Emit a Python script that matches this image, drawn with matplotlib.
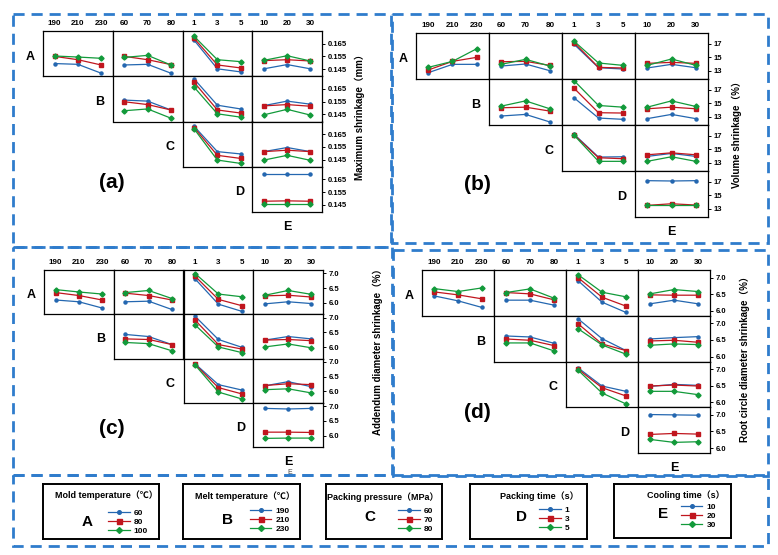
import matplotlib
matplotlib.use('Agg')
import matplotlib.pyplot as plt
from matplotlib.lines import Line2D
from matplotlib.patches import Rectangle

plt.rcParams['font.family'] = ['Liberation Sans', 'Noto Sans CJK SC', 'DejaVu Sans']

W, H = 778, 555

# factors and their levels
factors = ['A', 'B', 'C', 'D', 'E']
factor_names = ['Mold temperature（℃）', 'Melt temperature（℃）', 'Packing pressure（MPa）',
                'Packing time（s）', 'Cooling time（s）']
levels = {'A': [60, 80, 100], 'B': [190, 210, 230], 'C': [60, 70, 80],
          'D': [1, 3, 5], 'E': [10, 20, 30]}

# interaction means: (trace factor, x factor) -> [level1, level2, level3] series
max_shrink = {
    ('A', 'B'): [[0.1494, 0.1488, 0.1419], [0.1550, 0.1524, 0.1483], [0.1553, 0.1545, 0.1535]],
    ('A', 'C'): [[0.1483, 0.1488, 0.1419], [0.1550, 0.1524, 0.1486], [0.1542, 0.1558, 0.1483]],
    ('A', 'D'): [[0.1676, 0.1453, 0.1429], [0.1691, 0.1483, 0.1460], [0.1706, 0.1524, 0.1509]],
    ('A', 'E'): [[0.1453, 0.1486, 0.1453], [0.1517, 0.1524, 0.1514], [0.1519, 0.1555, 0.1514]],
    ('B', 'C'): [[0.1562, 0.1554, 0.1485], [0.1549, 0.1527, 0.1485], [0.1479, 0.1493, 0.1421]],
    ('B', 'D'): [[0.1727, 0.1522, 0.1493], [0.1701, 0.1485, 0.1461], [0.1663, 0.1455, 0.1429]],
    ('B', 'E'): [[0.1519, 0.1554, 0.1530], [0.1517, 0.1527, 0.1514], [0.1447, 0.1490, 0.1445]],
    ('C', 'D'): [[0.1710, 0.1513, 0.1495], [0.1700, 0.1484, 0.1460], [0.1690, 0.1447, 0.1421]],
    ('C', 'E'): [[0.1513, 0.1545, 0.1513], [0.1513, 0.1524, 0.1513], [0.1447, 0.1484, 0.1445]],
    ('D', 'E'): [[0.1695, 0.1695, 0.1695], [0.1479, 0.1482, 0.1479], [0.1458, 0.1458, 0.1458]],
}

vol_shrink = {
    ('A', 'B'): [[12.70, 13.94, 13.94], [13.10, 14.38, 14.98], [13.49, 14.38, 16.26]],
    ('A', 'C'): [[13.69, 13.99, 13.00], [14.33, 14.38, 13.79], [13.94, 14.68, 13.69]],
    ('A', 'D'): [[16.90, 13.44, 13.25], [17.15, 13.49, 13.40], [17.35, 14.14, 13.79]],
    ('A', 'E'): [[13.40, 13.94, 13.44], [14.09, 14.23, 14.09], [13.79, 14.73, 13.79]],
    ('B', 'C'): [[13.10, 13.34, 12.22], [14.32, 14.41, 13.83], [14.56, 15.34, 14.17]],
    ('B', 'D'): [[15.78, 12.80, 12.61], [17.20, 13.59, 13.54], [18.32, 14.66, 14.41]],
    ('B', 'E'): [[12.71, 13.34, 12.71], [14.17, 14.41, 14.17], [14.41, 15.34, 14.51]],
    ('C', 'D'): [[17.20, 13.83, 13.88], [17.10, 13.73, 13.59], [17.05, 13.20, 13.20]],
    ('C', 'E'): [[13.93, 14.37, 13.93], [14.17, 14.46, 14.17], [13.20, 13.88, 13.20]],
    ('D', 'E'): [[17.15, 17.10, 17.15], [13.49, 13.73, 13.54], [13.49, 13.49, 13.49]],
}

add_shrink = {
    ('A', 'B'): [[6.10, 6.04, 5.83], [6.35, 6.25, 6.10], [6.45, 6.37, 6.30]],
    ('A', 'C'): [[6.04, 6.06, 5.78], [6.33, 6.25, 6.10], [6.35, 6.42, 6.15]],
    ('A', 'D'): [[6.81, 5.96, 5.72], [6.90, 6.12, 5.91], [6.99, 6.30, 6.21]],
    ('A', 'E'): [[5.97, 6.04, 5.98], [6.24, 6.26, 6.20], [6.26, 6.42, 6.29]],
    ('B', 'C'): [[6.43, 6.36, 6.09], [6.28, 6.26, 6.09], [6.16, 6.12, 5.88]],
    ('B', 'D'): [[7.04, 6.26, 6.00], [6.91, 6.09, 5.94], [6.75, 6.01, 5.82]],
    ('B', 'E'): [[6.24, 6.36, 6.28], [6.24, 6.26, 6.22], [6.01, 6.11, 5.98]],
    ('C', 'D'): [[6.93, 6.23, 6.05], [6.91, 6.13, 5.92], [6.89, 5.98, 5.75]],
    ('C', 'E'): [[6.19, 6.33, 6.16], [6.20, 6.26, 6.23], [6.06, 6.09, 5.95]],
    ('D', 'E'): [[6.92, 6.90, 6.92], [6.12, 6.12, 6.11], [5.91, 5.92, 5.92]],
}

root_shrink = {
    ('A', 'B'): [[6.45, 6.30, 6.10], [6.57, 6.48, 6.36], [6.67, 6.58, 6.69]],
    ('A', 'C'): [[6.32, 6.32, 6.17], [6.55, 6.51, 6.33], [6.55, 6.66, 6.38]],
    ('A', 'D'): [[6.91, 6.26, 5.95], [7.00, 6.41, 6.14], [7.09, 6.56, 6.42]],
    ('A', 'E'): [[6.21, 6.32, 6.21], [6.48, 6.47, 6.47], [6.51, 6.64, 6.58]],
    ('B', 'C'): [[6.62, 6.59, 6.40], [6.53, 6.49, 6.33], [6.41, 6.41, 6.17]],
    ('B', 'D'): [[7.14, 6.54, 6.18], [6.99, 6.38, 6.18], [6.84, 6.35, 6.07]],
    ('B', 'E'): [[6.53, 6.57, 6.60], [6.47, 6.49, 6.43], [6.34, 6.38, 6.36]],
    ('C', 'D'): [[7.04, 6.49, 6.33], [7.00, 6.44, 6.19], [6.97, 6.28, 5.95]],
    ('C', 'E'): [[6.48, 6.54, 6.51], [6.49, 6.52, 6.49], [6.33, 6.33, 6.23]],
    ('D', 'E'): [[7.01, 7.00, 6.99], [6.41, 6.44, 6.42], [6.26, 6.17, 6.19]],
}

colors = ['#2467b0', '#c0161e', '#129a3a']
markers = ['o', 's', 'D']
msizes = [2.2, 3.2, 2.6]

fig = plt.figure(figsize=(W / 100, H / 100), dpi=100)


def px_rect(x, y, w, h):
    return [x / W, 1 - (y + h) / H, w / W, h / H]


def ftext(x, y, s, **kw):
    fig.text(x / W, 1 - y / H, s, **kw)


def draw_panel(data, ylim, yticks, yfmt, ylabel, left, top, cw, ch,
               ylab_pos, tag, tag_pos):
    for r in range(4):
        for c in range(r, 4):
            rf, cf = factors[r], factors[c + 1]
            ax = fig.add_axes(px_rect(left + c * cw, top + r * ch, cw, ch))
            xs = levels[cf]
            step = xs[1] - xs[0]
            for vals, col, mk, ms in zip(data[(rf, cf)], colors, markers, msizes):
                ax.plot(xs, vals, color=col, marker=mk, ms=ms, lw=0.9)
            ax.set_xlim(xs[0] - step / 2, xs[-1] + step / 2)
            ax.set_ylim(ylim)
            for sp in ax.spines.values():
                sp.set_linewidth(0.9)
            if r == 0:
                ax.xaxis.tick_top()
                ax.set_xticks(xs)
                ax.set_xticklabels([str(v) for v in xs], fontsize=5.8, fontweight='bold')
                ax.tick_params(axis='x', length=0, pad=3)
            else:
                ax.set_xticks([])
            if c == 3:
                ax.yaxis.tick_right()
                ax.set_yticks(yticks)
                ax.set_yticklabels([yfmt.format(v) for v in yticks], fontsize=5.5,
                                   fontweight='bold')
                ax.tick_params(axis='y', length=2, width=0.7, pad=2)
            else:
                ax.set_yticks([])
        ftext(left + r * cw - 13, top + r * ch + ch / 2 + 3, factors[r],
              fontsize=9, fontweight='bold', ha='center', va='center')
    ftext(left + 3.5 * cw, top + 4 * ch + 15, 'E', fontsize=9, fontweight='bold',
          ha='center', va='center')
    ftext(ylab_pos[0], ylab_pos[1], ylabel, fontsize=7, fontweight='bold',
          rotation=90, ha='center', va='center')
    ftext(tag_pos[0], tag_pos[1], tag, fontsize=15, fontweight='bold',
          ha='center', va='center')


draw_panel(max_shrink, (0.1395, 0.1748), [0.145, 0.155, 0.165], '{:.3f}',
           'Maximum shrinkage（mm）', 43, 31, 69.75, 45.25, (360, 115), '(a)', (112, 183))
draw_panel(vol_shrink, (11.77, 18.58), [13, 15, 17], '{:d}',
           'Volume shrinkage（%）', 416, 33, 73, 46, (737, 132), '(b)', (477, 185))
draw_panel(add_shrink, (5.62, 7.11), [6.0, 6.5, 7.0], '{:.1f}',
           'Addendum diameter shrinkage（%）', 44, 270, 69.75, 44.25, (378, 349), '(c)', (112, 428))
draw_panel(root_shrink, (5.85, 7.23), [6.0, 6.5, 7.0], '{:.1f}',
           'Root circle diameter shrinkage（%）', 422, 270, 72, 45.75, (745, 357), '(d)', (477, 413))

ftext(290, 473, 'E', fontsize=5, ha='center', va='center', color='#444444')

# dashed frames
frame_ax = fig.add_axes([0, 0, 1, 1], zorder=-1)
frame_ax.set_xlim(0, W)
frame_ax.set_ylim(H, 0)
frame_ax.axis('off')
for (x0, y0, x1, y1) in [(13, 14, 391, 247), (392, 14, 768, 243), (13, 247, 392, 475),
                         (393, 250, 768, 476), (13, 475, 768, 546)]:
    frame_ax.add_patch(Rectangle((x0, y0), x1 - x0, y1 - y0, fill=False,
                                 edgecolor='#2f7ccc', lw=2, ls=(0, (4, 2.5))))

# legend boxes
leg_boxes = [(43, 484, 159, 539), (183, 484, 300, 539), (326, 484, 442, 539),
             (470, 484, 587, 539), (614, 484, 731, 538)]
title_pos = [(0.55, 0.80), (0.53, 0.78), (0.49, 0.76), (0.59, 0.78), (0.61, 0.80)]
letter_pos = [(0.38, 0.31), (0.38, 0.35), (0.38, 0.40), (0.44, 0.40), (0.42, 0.44)]
legend_pos = [(0.56, 0.31), (0.57, 0.35), (0.62, 0.35), (0.59, 0.36), (0.57, 0.40)]

for i, f in enumerate(factors):
    x0, y0, x1, y1 = leg_boxes[i]
    lax = fig.add_axes(px_rect(x0, y0, x1 - x0, y1 - y0))
    lax.set_xticks([])
    lax.set_yticks([])
    for sp in lax.spines.values():
        sp.set_linewidth(1.4)
    lax.text(title_pos[i][0], title_pos[i][1], factor_names[i], transform=lax.transAxes,
             fontsize=6.5, fontweight='bold', ha='center', va='center')
    lax.text(letter_pos[i][0], letter_pos[i][1], f, transform=lax.transAxes,
             fontsize=11, fontweight='bold', ha='center', va='center')
    handles = [Line2D([], [], color=colors[k], marker=markers[k], ms=msizes[k] + 0.4, lw=0.9)
               for k in range(3)]
    leg = lax.legend(handles, [str(v) for v in levels[f]], loc='center left',
                     bbox_to_anchor=legend_pos[i], frameon=False, fontsize=6,
                     handlelength=2.6, labelspacing=0.15, handletextpad=0.5,
                     borderpad=0, borderaxespad=0)
    for t in leg.get_texts():
        t.set_fontweight('bold')

fig.savefig('out.png', dpi=100)
